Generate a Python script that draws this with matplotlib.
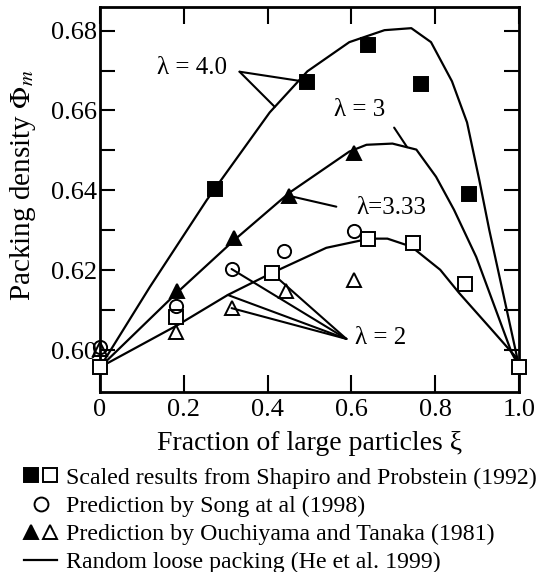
import matplotlib
matplotlib.use("Agg")
import matplotlib.pyplot as plt
from matplotlib.lines import Line2D
from matplotlib.legend_handler import HandlerTuple
import numpy as np

plt.rcParams['font.family'] = ['Liberation Serif', 'DejaVu Serif']
plt.rcParams['mathtext.fontset'] = 'stix'

# ---- data ----
# Shapiro & Probstein (1992), lambda = 4 (filled squares)
sq4_x = [0.274, 0.495, 0.640, 0.767, 0.881]
sq4_y = [0.6403, 0.6671, 0.6765, 0.6665, 0.6390]
# Shapiro & Probstein (1992), lambda = 2 (open squares)
sq2_x = [0.0, 0.181, 0.410, 0.640, 0.748, 0.871, 1.0]
sq2_y = [0.5957, 0.6084, 0.6193, 0.6279, 0.6268, 0.6166, 0.5957]
# Song et al (1998), lambda = 2 (open circles)
song_x = [0.0, 0.181, 0.314, 0.440, 0.607]
song_y = [0.6008, 0.6110, 0.6203, 0.6249, 0.6299]
# Ouchiyama & Tanaka (1981), lambda = 3.33 (filled triangles)
ot3_x = [0.183, 0.321, 0.452, 0.607]
ot3_y = [0.6148, 0.6281, 0.6386, 0.6494]
# Ouchiyama & Tanaka (1981), lambda = 2 (open triangles)
ot2_x = [0.0, 0.181, 0.314, 0.443, 0.607]
ot2_y = [0.6002, 0.6045, 0.6105, 0.6147, 0.6176]
# Random loose packing (He et al. 1999)
rlp4_x = [0.0, 0.119, 0.255, 0.405, 0.495, 0.595, 0.679, 0.743, 0.790, 0.840, 0.876, 0.905, 0.929, 1.0]
rlp4_y = [0.5957, 0.6158, 0.6376, 0.6595, 0.6698, 0.6771, 0.6801, 0.6806, 0.6771, 0.6673, 0.6570, 0.6427, 0.6301, 0.5960]
rlp3_x = [0.0, 0.183, 0.321, 0.452, 0.595, 0.636, 0.698, 0.755, 0.802, 0.845, 0.898, 0.983, 1.0]
rlp3_y = [0.5957, 0.6143, 0.6276, 0.6394, 0.6497, 0.6514, 0.6517, 0.6502, 0.6434, 0.6351, 0.6233, 0.5992, 0.5960]
rlp2_x = [0.0, 0.186, 0.305, 0.410, 0.540, 0.643, 0.686, 0.743, 0.812, 0.857, 0.929, 0.993, 1.0]
rlp2_y = [0.5957, 0.6063, 0.6138, 0.6193, 0.6256, 0.6279, 0.6279, 0.6259, 0.6201, 0.6143, 0.6058, 0.5982, 0.5960]

xticks = [0, 0.2, 0.4, 0.6, 0.8, 1.0]
xticklabels = ['0', '0.2', '0.4', '0.6', '0.8', '1.0']
yticks = [0.60, 0.62, 0.64, 0.66, 0.68]
yticklabels = ['0.60', '0.62', '0.64', '0.66', '0.68']

legend_labels = ['Scaled results from Shapiro and Probstein (1992)',
                 'Prediction by Song at al (1998)',
                 'Prediction by Ouchiyama and Tanaka (1981)',
                 'Random loose packing (He et al. 1999)']

W, H = 538, 572
fig = plt.figure(figsize=(W / 100, H / 100), dpi=100)
ax = fig.add_axes([100 / W, 1 - 392 / H, 419 / W, 385 / H])

lw = 1.6
ms = 9.5
mew = 1.4
for xs, ys in [(rlp4_x, rlp4_y), (rlp3_x, rlp3_y), (rlp2_x, rlp2_y)]:
    ax.plot(xs, ys, color='black', lw=lw, zorder=2)

kw = dict(ls='none', ms=ms, mew=mew, clip_on=False, zorder=4)
ax.plot(sq4_x, sq4_y, marker='s', color='black', mfc='black', **kw)
ax.plot(sq2_x, sq2_y, marker='s', color='black', mfc='white', **kw)
ax.plot(song_x, song_y, marker='o', color='black', mfc='none', **kw)
ax.plot(ot3_x, ot3_y, marker='^', color='black', mfc='black', ms=10, mew=mew, ls='none', clip_on=False, zorder=4)
ax.plot(ot2_x, ot2_y, marker='^', color='black', mfc='none', ms=10, mew=mew, ls='none', clip_on=False, zorder=4)

ax.set_xlim(0, 1.0)
ax.set_ylim(0.5895, 0.6859)
ax.set_xticks(xticks)
ax.set_xticklabels(xticklabels)
ax.set_yticks(yticks)
ax.set_yticklabels(yticklabels)
ax.set_yticks([0.61, 0.63, 0.65, 0.67], minor=True)
ax.tick_params(axis='both', which='both', direction='in', width=1.5,
               labelsize=19, top=True, right=True)
ax.tick_params(axis='x', which='major', length=12, pad=5)
ax.tick_params(axis='y', which='both', length=11, pad=2)
ax.tick_params(axis='x', which='minor', bottom=False, top=False)
for s in ax.spines.values():
    s.set_linewidth(2)

ax.set_xlabel('Fraction of large particles ξ', fontsize=20, labelpad=7.5)
ax.set_ylabel(r'Packing density $\Phi_m$', fontsize=21)
ax.yaxis.set_label_coords(-0.149, 0.538)

# annotations
ann = dict(arrowprops=dict(arrowstyle='-', color='black', lw=1.5,
                           shrinkA=0, shrinkB=0), zorder=3)
fs = 18
ax.text(0.219, 0.6707, 'λ = 4.0', fontsize=fs, ha='center', va='center')
ax.annotate('', xy=(sq4_x[1], sq4_y[1]), xytext=(0.333, 0.6697), **ann)
ax.annotate('', xy=(0.417, 0.6609), xytext=(0.333, 0.6697), **ann)

ax.text(0.619, 0.6602, 'λ = 3', fontsize=fs, ha='center', va='center')
ax.annotate('', xy=(0.733, 0.6508), xytext=(0.702, 0.6557), **ann)

ax.text(0.696, 0.6356, 'λ=3.33', fontsize=fs, ha='center', va='center')
ax.annotate('', xy=(ot3_x[2], ot3_y[2]), xytext=(0.564, 0.6359), **ann)

ax.text(0.670, 0.6030, 'λ = 2', fontsize=fs, ha='center', va='center')
vx, vy = 0.588, 0.6028
ax.annotate('', xy=(song_x[2], song_y[2]), xytext=(vx, vy), **ann)
ax.annotate('', xy=(sq2_x[2], sq2_y[2]), xytext=(vx, vy), **ann)
ax.annotate('', xy=(0.305, 0.6138), xytext=(vx, vy), **ann)
ax.annotate('', xy=(ot2_x[2], ot2_y[2]), xytext=(vx, vy), **ann)

# legend
lm = dict(ls='none', color='black', ms=10, mew=1.4)
h_sq = (Line2D([], [], marker='s', mfc='black', **lm),
        Line2D([], [], marker='s', mfc='white', **lm))
h_ci = Line2D([], [], marker='o', mfc='none', **lm)
h_tr = (Line2D([], [], marker='^', mfc='black', **lm),
        Line2D([], [], marker='^', mfc='none', **lm))
h_ln = Line2D([], [], color='black', lw=1.6)
fig.legend([h_sq, h_ci, h_tr, h_ln], legend_labels,
           handler_map={tuple: HandlerTuple(ndivide=None, pad=0.15)},
           loc='upper left', bbox_to_anchor=(24 / W, 1 - 467 / H),
           frameon=False, fontsize=17.2, handlelength=1.4, handletextpad=0.35,
           labelspacing=0.27, borderpad=0, borderaxespad=0)

fig.savefig('out.png', dpi=100)
